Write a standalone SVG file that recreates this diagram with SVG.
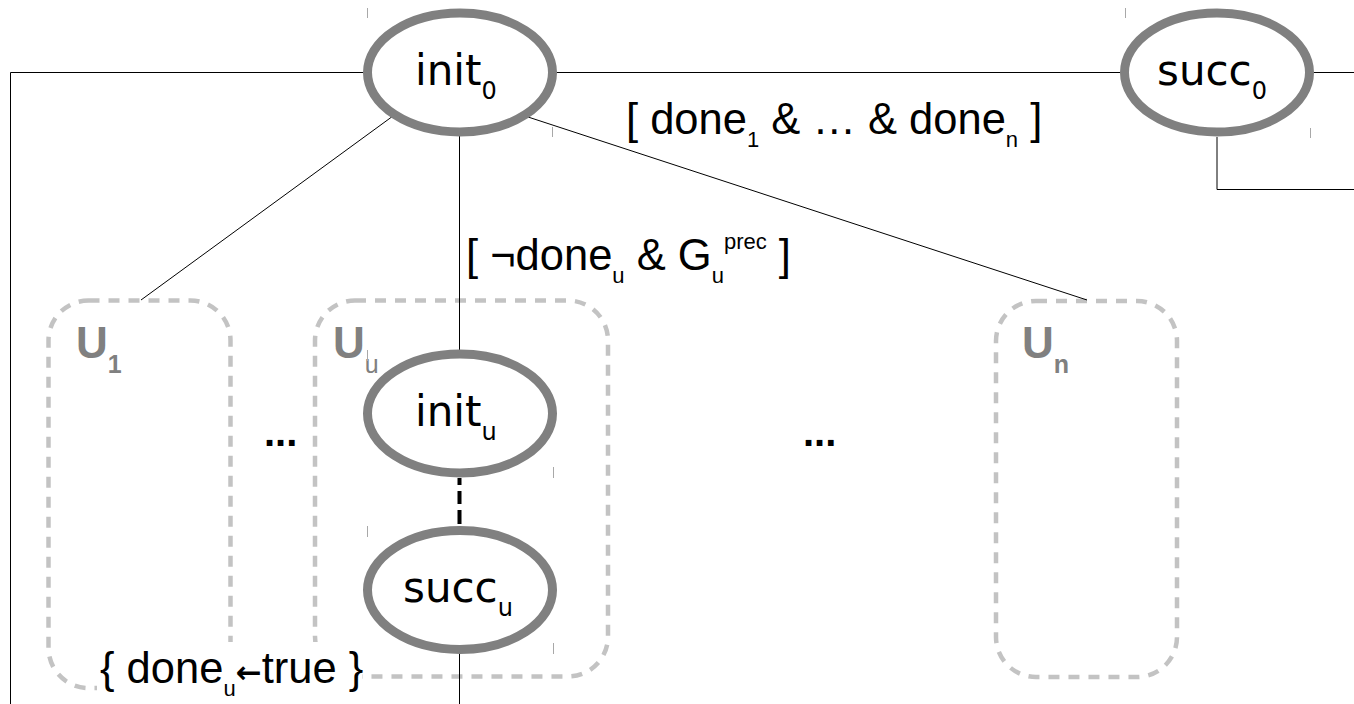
<svg xmlns="http://www.w3.org/2000/svg" width="1354" height="704" viewBox="0 0 1354 704">
<style>
.box{fill:none;stroke:#c3c3c3;stroke-width:4.5;stroke-dasharray:11 9}
.ulab{font-family:"Liberation Sans",Arial,sans-serif;font-weight:bold;font-size:44px;fill:#808080}
.usub{font-size:25px}
.conn{fill:none;stroke:#000;stroke-width:1}
.state{fill:#fff;stroke:#808080;stroke-width:9}
.slab{font-family:"DejaVu Sans",sans-serif;font-size:42px;fill:#000}
.ssub{font-size:24px}
.lab{font-family:"Liberation Sans",Arial,sans-serif;font-size:43.5px;fill:#000;white-space:pre}
.lsub{font-size:22px}
.arr{font-family:"DejaVu Sans",sans-serif;font-weight:bold;font-size:31px}
.dots{font-family:"Liberation Sans",Arial,sans-serif;font-weight:bold;font-size:40px;fill:#000}
.tick{stroke:#a8a8a8;stroke-width:1}
</style>
<g id="U1">
<rect class="box" x="48.5" y="300.5" width="182" height="387.5" rx="40"/>
<text class="ulab" x="76" y="358">U<tspan class="usub" dy="15">1</tspan></text>
</g>
<g id="Uu">
<rect class="box" x="315" y="300.5" width="293" height="376" rx="40"/>
<text class="ulab" x="333" y="358">U<tspan class="usub" dy="15" font-weight="normal">u</tspan></text>
</g>
<g id="Un">
<rect class="box" x="996" y="301" width="181" height="376" rx="40"/>
<text class="ulab" x="1022" y="358">U<tspan class="usub" dy="15">n</tspan></text>
</g>
<g id="connectors">
<path class="conn" d="M363 72.5H10.5V704"/>
<path class="conn" d="M557 72.5H1120"/>
<path class="conn" d="M1314 72.5H1354"/>
<path class="conn" d="M1217 137V189.5H1354"/>
<path class="conn" d="M459.5 133V352"/>
<path class="conn" d="M393 116L141 300"/>
<path class="conn" d="M525 116L1087 300"/>
<path class="conn" d="M459.5 650V704"/>
<path d="M459.5 478V527" fill="none" stroke="#000" stroke-width="4" stroke-dasharray="7 6 13 6 14"/>
</g>
<g id="init0">
<ellipse class="state" cx="460" cy="72.5" rx="92.5" ry="59.5"/>
<text class="slab" x="415" y="85">init<tspan class="ssub" dy="14">0</tspan></text>
<line class="tick" x1="367.5" y1="8" x2="367.5" y2="18"/>
<line class="tick" x1="552.5" y1="127" x2="552.5" y2="137"/>
</g>
<g id="succ0">
<ellipse class="state" cx="1217" cy="72.5" rx="92.5" ry="59.5"/>
<text class="slab" x="1157" y="85">succ<tspan class="ssub" dy="14">0</tspan></text>
<line class="tick" x1="1125.5" y1="8" x2="1125.5" y2="18"/>
<line class="tick" x1="1310.5" y1="128" x2="1310.5" y2="138"/>
</g>
<g id="initu">
<ellipse class="state" cx="460" cy="413.5" rx="92.5" ry="59.5"/>
<text class="slab" x="415" y="426">init<tspan class="ssub" dy="14">u</tspan></text>
<line class="tick" x1="367.5" y1="350" x2="367.5" y2="361"/>
<line class="tick" x1="553.5" y1="467" x2="553.5" y2="478"/>
</g>
<g id="succu">
<ellipse class="state" cx="460" cy="590" rx="92.5" ry="59.5"/>
<text class="slab" x="403" y="602">succ<tspan class="ssub" dy="14">u</tspan></text>
<line class="tick" x1="367.5" y1="526" x2="367.5" y2="537"/>
<line class="tick" x1="553.5" y1="643" x2="553.5" y2="654"/>
</g>
<g id="labels">
<text class="lab" x="626" y="134">[ done<tspan class="lsub" dy="13">1</tspan><tspan dy="-13"> &amp; … &amp; done</tspan><tspan class="lsub" dy="13">n</tspan><tspan dy="-13"> ]</tspan></text>
<text class="lab" x="466" y="270">[ ¬done<tspan class="lsub" dy="13">u</tspan><tspan dy="-13"> &amp; G</tspan><tspan class="lsub" dy="13">u</tspan><tspan class="lsub" dy="-34">prec</tspan><tspan dy="21"> ]</tspan></text>
<rect x="97" y="642" width="265" height="62" fill="#fff"/>
<text class="lab" x="100" y="683">{ done<tspan class="lsub" dy="13">u</tspan><tspan class="arr" dy="-13">←</tspan><tspan>true }</tspan></text>
<text class="dots" x="264" y="446">...</text>
<text class="dots" x="803" y="446">...</text>
</g>
</svg>
